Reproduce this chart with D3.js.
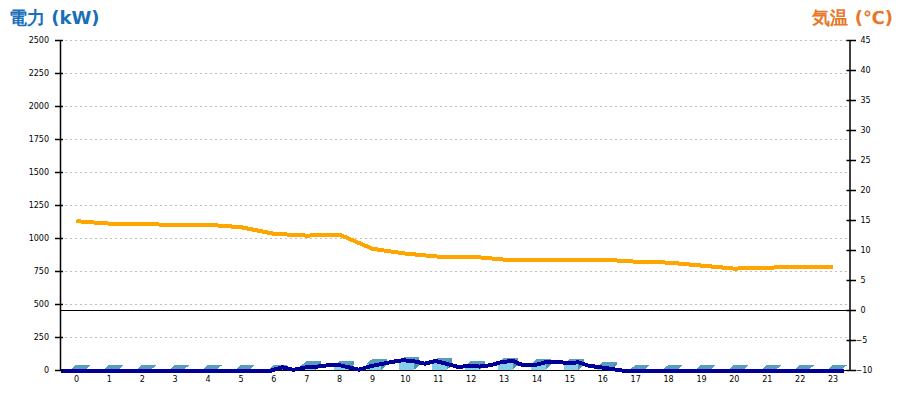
<!DOCTYPE html>
<html>
<head>
<meta charset="utf-8">
<script src="https://cdn.jsdelivr.net/npm/d3@7"></script>
<style>
  html, body { margin: 0; padding: 0; background: #fff; }
  svg { display: block; }
  text { font-family: "DejaVu Sans", sans-serif; }
</style>
</head>
<body>
<svg id="chart" width="900" height="400"></svg>
<script>
// ---- data ----
const hours = d3.range(0, 24).map(String);
// hourly power (bars), kW
const powerHourly = [0, 0, 0, 0, 0, 0, 0, 30, 30, 45, 63, 55, 30, 55, 42, 45, 20, 0, 0, 0, 0, 0, 0, 0];
// power line, 20-minute samples from 0:00 (kW)
const powerLine = [
  0, 0, 0, 0, 0, 0, 0, 0, 0, 0, 0, 0,          // 0:00 - 3:40
  0, 0, 0, 0, 0, 0, 0, 0, 25, 5, 22, 28,       // 4:00 - 7:40
  38, 45, 25, 6, 32, 48, 65, 78, 70, 52, 72, 50, // 8:00 - 11:40
  28, 33, 30, 40, 64, 73, 38, 40, 62, 68, 55, 62, // 12:00 - 15:40
  35, 25, 12, 0, 0, 0, 0, 0, 0, 0, 0, 0,       // 16:00 - 19:40
  0, 0, 0, 0, 0, 0, 0, 0, 0, 0, 0, 0           // 20:00 - 23:40
];
// hourly temperature (°C)
const temperature = [14.8, 14.4, 14.4, 14.1, 14.2, 13.8, 12.7, 12.4, 12.55, 10.2, 9.4, 8.9,
                     8.9, 8.4, 8.4, 8.4, 8.4, 8.05, 7.9, 7.4, 6.9, 7.05, 7.2, 7.2];
const powerTicks = [0, 250, 500, 750, 1000, 1250, 1500, 1750, 2000, 2250, 2500];
const tempTicks = [-10, -5, 0, 5, 10, 15, 20, 25, 30, 35, 40, 45];
const leftTitle = "電力 (kW)";
const rightTitle = "気温 (℃)";

// ---- layout ----
const L = 60, R = 849.5, T = 40, B = 370;
const svg = d3.select("#chart");

const x = d3.scaleBand().domain(hours).range([L, R]).padding(0);
const xt = d3.scaleLinear().domain([0, 24]).range([L, R]);
const yP = d3.scaleLinear().domain([0, 2500]).range([B, T]);
const yT = d3.scaleLinear().domain([-10, 45]).range([B, T]);

// grid
svg.append("g").selectAll("line").data(powerTicks.filter(d => d > 0)).join("line")
  .attr("x1", L).attr("x2", R)
  .attr("y1", d => Math.round(yP(d)) + 0.5).attr("y2", d => Math.round(yP(d)) + 0.5)
  .attr("stroke", "#c0c0c0").attr("stroke-dasharray", "2,3").attr("stroke-width", 1);

// temp zero line
svg.append("line").attr("x1", L).attr("x2", R)
  .attr("y1", Math.round(yT(0)) + 0.5).attr("y2", Math.round(yT(0)) + 0.5)
  .attr("stroke", "#000").attr("stroke-width", 1.2);

// 3D bars
const bw = 14.5, dx = 5.5, dy = 5, off = 10.5;
const bars = svg.append("g").attr("shape-rendering", "crispEdges");
powerHourly.forEach((v, i) => {
  const x0 = x(hours[i]) + off, x1 = x0 + bw;
  const yv = yP(v), y0 = yP(0);
  // side
  bars.append("path")
    .attr("d", `M${x1},${y0}L${x1 + dx},${y0 - dy}L${x1 + dx},${yv - dy}L${x1},${yv}Z`)
    .attr("fill", "#4f93b3");
  // front
  if (v > 0) bars.append("rect").attr("x", x0).attr("y", yv).attr("width", bw).attr("height", y0 - yv)
    .attr("fill", "#87ceeb");
  // top
  bars.append("path")
    .attr("d", `M${x0},${yv}L${x1},${yv}L${x1 + dx},${yv - dy}L${x0 + dx},${yv - dy}Z`)
    .attr("fill", "#5b9dbd");
});

// x axis line
svg.append("line").attr("x1", L).attr("x2", R)
  .attr("y1", B + 0.5).attr("y2", B + 0.5).attr("stroke", "#000").attr("stroke-width", 1.2);

// temperature line
svg.append("path").datum(temperature)
  .attr("d", d3.line().x((d, i) => x(hours[i]) + x.bandwidth() / 2).y(d => yT(d)))
  .attr("fill", "none").attr("stroke", "#ffa500").attr("stroke-width", 4)
  .attr("shape-rendering", "crispEdges");

// power line
svg.append("path").datum(powerLine)
  .attr("d", d3.line().x((d, i) => xt(i / 3) + 3).y(d => yP(d) + 0.5))
  .attr("fill", "none").attr("stroke", "#000099").attr("stroke-width", 4)
  .attr("stroke-linecap", "square")
  .attr("shape-rendering", "crispEdges");

// left axis
const gL = svg.append("g").attr("transform", `translate(${L},0)`)
  .call(d3.axisLeft(yP).tickValues(powerTicks).tickFormat(d3.format("d"))
    .tickSize(5).tickSizeOuter(0).tickPadding(6));
gL.select(".domain").attr("stroke-width", 1.5);
gL.selectAll(".tick line").attr("x1", 3).attr("stroke-width", 1.5);
gL.selectAll(".tick text").attr("font-size", 8).attr("fill", "#000");

// right axis
const gR = svg.append("g").attr("transform", `translate(${R},0)`)
  .call(d3.axisRight(yT).tickValues(tempTicks).tickSize(6.5).tickSizeOuter(0).tickPadding(5)
    .tickFormat(d => d < 0 ? "\u2212" + Math.abs(d) : String(d)));
gR.select(".domain").attr("stroke-width", 1.5);
gR.selectAll(".tick line").attr("x1", -3).attr("stroke-width", 1.5);
gR.selectAll(".tick text").attr("font-size", 8).attr("fill", "#000")
  .attr("x", d => d < 0 ? 6 : 11);

// x labels
const gX = svg.append("g").attr("transform", `translate(0,${B})`)
  .call(d3.axisBottom(x).tickSize(0).tickPadding(6));
gX.select(".domain").remove();
gX.selectAll(".tick text").attr("font-size", 8).attr("fill", "#000");

// titles
svg.append("text").attr("x", 9).attr("y", 24).text(leftTitle)
  .attr("font-family", "'Noto Sans CJK JP', sans-serif").attr("font-weight", "bold")
  .attr("font-size", 18).attr("fill", "#1a6fb8");
svg.append("text").attr("x", 893).attr("y", 24).attr("text-anchor", "end").text(rightTitle)
  .attr("font-family", "'Noto Sans CJK JP', sans-serif").attr("font-weight", "bold")
  .attr("font-size", 18).attr("fill", "#e8772a");
</script>
</body>
</html>
